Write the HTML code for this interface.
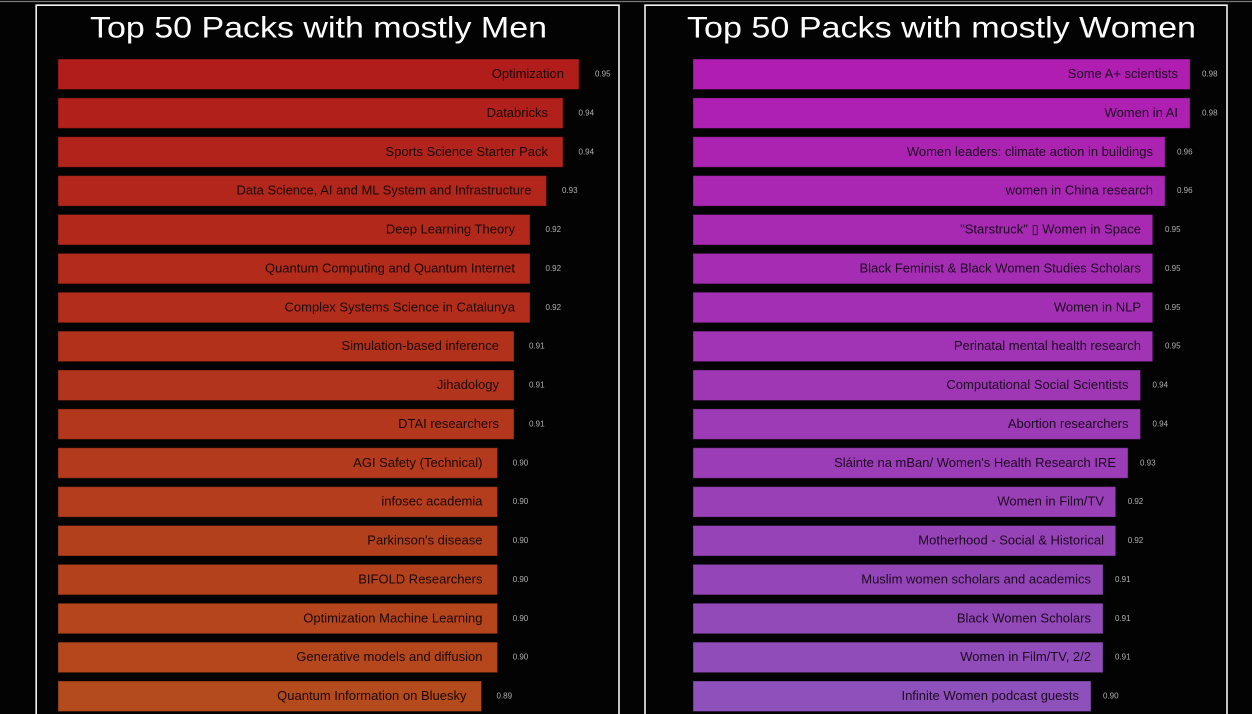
<!DOCTYPE html>
<html>
<head>
<meta charset="utf-8">
<style>
html,body{margin:0;padding:0;background:#030303;width:1252px;height:714px;overflow:hidden;}
svg{display:block;}
.t{font-family:"Liberation Sans","DejaVu Sans",sans-serif;fill:#ffffff;font-size:30px;}
.l{font-family:"Liberation Sans","DejaVu Sans",sans-serif;font-size:13px;fill:#1c0808;text-anchor:end;}
.r{font-family:"Liberation Sans","DejaVu Sans",sans-serif;font-size:13px;fill:#1e0822;text-anchor:end;}
.v{font-family:"Liberation Sans","DejaVu Sans",sans-serif;font-size:8px;fill:#b0b0b0;}
</style>
</head>
<body>
<svg width="1252" height="714" viewBox="0 0 1252 714" xmlns="http://www.w3.org/2000/svg">
<rect x="0" y="0" width="1252" height="714" fill="#030303"/>
<line x1="0" y1="1.5" x2="1252" y2="1.5" stroke="#7a7a7a" stroke-width="1.3"/>
<path d="M36.2 714 L36.2 5.2 L619 5.2 L619 714" fill="none" stroke="#f2f2f2" stroke-width="1.6"/>
<path d="M645 714 L645 5.2 L1227 5.2 L1227 714" fill="none" stroke="#f2f2f2" stroke-width="1.6"/>

<text class="t" x="90" y="37.5" textLength="457" lengthAdjust="spacingAndGlyphs">Top 50 Packs with mostly Men</text>
<text class="t" x="687" y="37.5" textLength="509" lengthAdjust="spacingAndGlyphs">Top 50 Packs with mostly Women</text>

<g stroke="rgba(0,0,0,0.35)" stroke-width="1">
<rect x="58" y="59" width="521" height="30.5" fill="rgb(177,29,27)"/>
<rect x="58" y="97.875" width="505" height="30.5" fill="rgb(177,32,27)"/>
<rect x="58" y="136.75" width="505" height="30.5" fill="rgb(177,35,27)"/>
<rect x="58" y="175.625" width="488.5" height="30.5" fill="rgb(178,38,27)"/>
<rect x="58" y="214.5" width="472" height="30.5" fill="rgb(178,41,27)"/>
<rect x="58" y="253.375" width="472" height="30.5" fill="rgb(178,43,27)"/>
<rect x="58" y="292.25" width="472" height="30.5" fill="rgb(178,46,27)"/>
<rect x="58" y="331.125" width="456" height="30.5" fill="rgb(178,49,27)"/>
<rect x="58" y="370" width="456" height="30.5" fill="rgb(179,52,28)"/>
<rect x="58" y="408.875" width="456" height="30.5" fill="rgb(179,55,28)"/>
<rect x="58" y="447.75" width="439.5" height="30.5" fill="rgb(179,58,28)"/>
<rect x="58" y="486.625" width="439.5" height="30.5" fill="rgb(179,61,28)"/>
<rect x="58" y="525.5" width="439.5" height="30.5" fill="rgb(179,64,28)"/>
<rect x="58" y="564.375" width="439.5" height="30.5" fill="rgb(179,66,28)"/>
<rect x="58" y="603.25" width="439.5" height="30.5" fill="rgb(180,69,28)"/>
<rect x="58" y="642.125" width="439.5" height="30.5" fill="rgb(180,72,28)"/>
<rect x="58" y="681" width="423.5" height="30.5" fill="rgb(180,75,28)"/>

<rect x="693" y="59" width="497" height="30.5" fill="rgb(176,29,177)"/>
<rect x="693" y="97.875" width="497" height="30.5" fill="rgb(174,32,178)"/>
<rect x="693" y="136.75" width="472" height="30.5" fill="rgb(172,35,178)"/>
<rect x="693" y="175.625" width="472" height="30.5" fill="rgb(170,39,179)"/>
<rect x="693" y="214.5" width="459.7" height="30.5" fill="rgb(168,42,179)"/>
<rect x="693" y="253.375" width="459.7" height="30.5" fill="rgb(165,45,180)"/>
<rect x="693" y="292.25" width="459.7" height="30.5" fill="rgb(163,48,180)"/>
<rect x="693" y="331.125" width="459.7" height="30.5" fill="rgb(161,51,181)"/>
<rect x="693" y="370" width="447.5" height="30.5" fill="rgb(159,55,181)"/>
<rect x="693" y="408.875" width="447.5" height="30.5" fill="rgb(157,58,182)"/>
<rect x="693" y="447.75" width="435" height="30.5" fill="rgb(155,61,183)"/>
<rect x="693" y="486.625" width="422.7" height="30.5" fill="rgb(153,64,183)"/>
<rect x="693" y="525.5" width="422.7" height="30.5" fill="rgb(150,67,184)"/>
<rect x="693" y="564.375" width="410" height="30.5" fill="rgb(148,70,184)"/>
<rect x="693" y="603.25" width="410" height="30.5" fill="rgb(146,74,185)"/>
<rect x="693" y="642.125" width="410" height="30.5" fill="rgb(144,77,185)"/>
<rect x="693" y="681" width="398" height="30.5" fill="rgb(142,80,186)"/>
</g>

<text class="l" x="564" y="78">Optimization</text>
<text class="l" x="548" y="116.9">Databricks</text>
<text class="l" x="548" y="155.8">Sports Science Starter Pack</text>
<text class="l" x="531.5" y="194.6">Data Science, AI and ML System and Infrastructure</text>
<text class="l" x="515" y="233.5">Deep Learning Theory</text>
<text class="l" x="515" y="272.4">Quantum Computing and Quantum Internet</text>
<text class="l" x="515" y="311.3">Complex Systems Science in Catalunya</text>
<text class="l" x="499" y="350.1">Simulation-based inference</text>
<text class="l" x="499" y="389">Jihadology</text>
<text class="l" x="499" y="427.9">DTAI researchers</text>
<text class="l" x="482.5" y="466.8">AGI Safety (Technical)</text>
<text class="l" x="482.5" y="505.6">infosec academia</text>
<text class="l" x="482.5" y="544.5">Parkinson's disease</text>
<text class="l" x="482.5" y="583.4">BIFOLD Researchers</text>
<text class="l" x="482.5" y="622.3">Optimization Machine Learning</text>
<text class="l" x="482.5" y="661.1">Generative models and diffusion</text>
<text class="l" x="466.5" y="700">Quantum Information on Bluesky</text>

<text class="v" x="595" y="76.5">0.95</text>
<text class="v" x="578.5" y="115.4">0.94</text>
<text class="v" x="578.5" y="154.3">0.94</text>
<text class="v" x="562" y="193.1">0.93</text>
<text class="v" x="545.5" y="232">0.92</text>
<text class="v" x="545.5" y="270.9">0.92</text>
<text class="v" x="545.5" y="309.8">0.92</text>
<text class="v" x="529" y="348.6">0.91</text>
<text class="v" x="529" y="387.5">0.91</text>
<text class="v" x="529" y="426.4">0.91</text>
<text class="v" x="512.7" y="465.3">0.90</text>
<text class="v" x="512.7" y="504.1">0.90</text>
<text class="v" x="512.7" y="543">0.90</text>
<text class="v" x="512.7" y="581.9">0.90</text>
<text class="v" x="512.7" y="620.8">0.90</text>
<text class="v" x="512.7" y="659.6">0.90</text>
<text class="v" x="496.5" y="698.5">0.89</text>

<text class="r" x="1178" y="78">Some A+ scientists</text>
<text class="r" x="1178" y="116.9">Women in AI</text>
<text class="r" x="1153" y="155.8">Women leaders: climate action in buildings</text>
<text class="r" x="1153" y="194.6">women in China research</text>
<text class="r" x="1141" y="233.5">"Starstruck" ▯ Women in Space</text>
<text class="r" x="1141" y="272.4">Black Feminist &amp; Black Women Studies Scholars</text>
<text class="r" x="1141" y="311.3">Women in NLP</text>
<text class="r" x="1141" y="350.1">Perinatal mental health research</text>
<text class="r" x="1128.5" y="389">Computational Social Scientists</text>
<text class="r" x="1128.5" y="427.9">Abortion researchers</text>
<text class="r" x="1116" y="466.8">Sláinte na mBan/ Women's Health Research IRE</text>
<text class="r" x="1104" y="505.6">Women in Film/TV</text>
<text class="r" x="1104" y="544.5">Motherhood - Social &amp; Historical</text>
<text class="r" x="1091" y="583.4">Muslim women scholars and academics</text>
<text class="r" x="1091" y="622.3">Black Women Scholars</text>
<text class="r" x="1091" y="661.1">Women in Film/TV, 2/2</text>
<text class="r" x="1079" y="700">Infinite Women podcast guests</text>

<text class="v" x="1202" y="76.5">0.98</text>
<text class="v" x="1202" y="115.4">0.98</text>
<text class="v" x="1177" y="154.3">0.96</text>
<text class="v" x="1177" y="193.1">0.96</text>
<text class="v" x="1165" y="232">0.95</text>
<text class="v" x="1165" y="270.9">0.95</text>
<text class="v" x="1165" y="309.8">0.95</text>
<text class="v" x="1165" y="348.6">0.95</text>
<text class="v" x="1152.5" y="387.5">0.94</text>
<text class="v" x="1152.5" y="426.4">0.94</text>
<text class="v" x="1140" y="465.3">0.93</text>
<text class="v" x="1127.7" y="504.1">0.92</text>
<text class="v" x="1127.7" y="543">0.92</text>
<text class="v" x="1115" y="581.9">0.91</text>
<text class="v" x="1115" y="620.8">0.91</text>
<text class="v" x="1115" y="659.6">0.91</text>
<text class="v" x="1103" y="698.5">0.90</text>
</svg>
</body>
</html>
